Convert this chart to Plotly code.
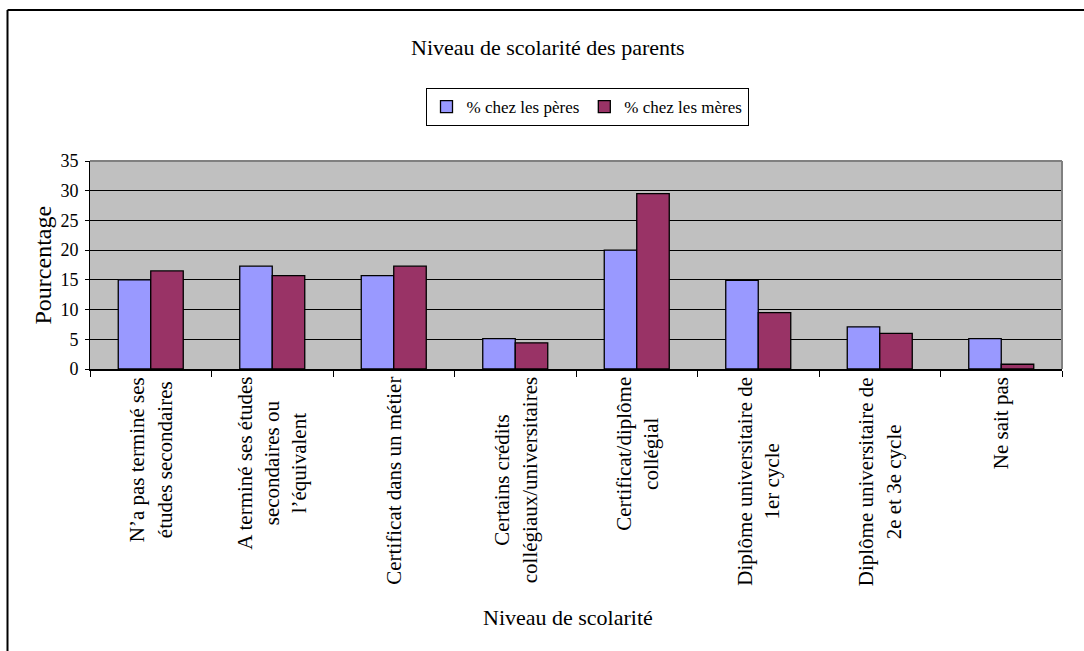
import plotly.graph_objects as go

categories = [
    "N’a pas terminé ses<br>études secondaires",
    "A terminé ses études<br>secondaires ou<br>l’équivalent",
    "Certificat dans un métier",
    "Certains crédits<br>collégiaux/universitaires",
    "Certificat/diplôme<br>collégial",
    "Diplôme universitaire de<br>1er cycle",
    "Diplôme universitaire de<br>2e et 3e cycle",
    "Ne sait pas",
]
peres = [15.0, 17.3, 15.7, 5.1, 20.0, 14.9, 7.1, 5.1]
meres = [16.5, 15.7, 17.3, 4.4, 29.5, 9.5, 6.0, 0.8]
series_names = ["% chez les pères", "% chez les mères"]
y_ticks = [0, 5, 10, 15, 20, 25, 30, 35]

title_text = "Niveau de scolarité des parents"
x_title = "Niveau de scolarité"
y_title = "Pourcentage"

FONT = "Liberation Serif, Times New Roman, serif"
W, H = 1084, 651
L, R, T, B = 90, 22, 161, 282  # plot area: x 90..1062, y 161..369
PW = W - L - R
PH = H - T - B

def px_x(px):
    return (px - L) / PW

def px_y(py):
    return (H - B - py) / PH

fig = go.Figure()
fig.add_trace(go.Bar(
    x=categories, y=peres, name=series_names[0],
    marker=dict(color="#9999FF", line=dict(color="black", width=1.3)),
))
fig.add_trace(go.Bar(
    x=categories, y=meres, name=series_names[1],
    marker=dict(color="#993366", line=dict(color="black", width=1.3)),
))

annotations = []
for c in categories:
    annotations.append(dict(
        x=c, xref="x", y=0, yref="paper", yanchor="top", xanchor="center",
        yshift=-6, text=c, textangle=-90, showarrow=False, align="center",
        font=dict(family=FONT, size=21, color="black"),
    ))
annotations += [
    dict(x=px_x(547.5), y=px_y(48), xref="paper", yref="paper", text=title_text,
         showarrow=False, xanchor="center", yanchor="middle",
         font=dict(family=FONT, size=22, color="black")),
    dict(x=px_x(567.5), y=px_y(617), xref="paper", yref="paper", text=x_title,
         showarrow=False, xanchor="center", yanchor="middle",
         font=dict(family=FONT, size=22, color="black")),
    dict(x=px_x(42.5), y=0.5, xref="paper", yref="paper", text=y_title,
         showarrow=False, xanchor="center", yanchor="middle", textangle=-90,
         font=dict(family=FONT, size=24, color="black")),
]

shapes = [
    # plot border top / right (gray)
    dict(type="line", xref="paper", yref="paper", x0=0, x1=1, y0=1, y1=1,
         line=dict(color="#808080", width=2), layer="above"),
    dict(type="line", xref="paper", yref="paper", x0=1, x1=1, y0=0, y1=1,
         line=dict(color="#808080", width=2), layer="above"),
    # outer chart frame (top and left)
    dict(type="line", xref="paper", yref="paper", x0=px_x(7.5), x1=px_x(1090),
         y0=px_y(10), y1=px_y(10), line=dict(color="black", width=2)),
    dict(type="line", xref="paper", yref="paper", x0=px_x(7.5), x1=px_x(7.5),
         y0=px_y(10), y1=px_y(660), line=dict(color="black", width=2)),
]

fig.update_layout(
    width=W, height=H,
    margin=dict(l=L, r=R, t=T, b=B, autoexpand=False),
    paper_bgcolor="white", plot_bgcolor="#C0C0C0",
    barmode="group", bargap=0.465, bargroupgap=0,
    font=dict(family=FONT, color="black"),
    showlegend=True,
    legend=dict(
        orientation="h", x=px_x(587), xanchor="center", y=px_y(88), yanchor="top",
        bordercolor="black", borderwidth=1, bgcolor="white",
        font=dict(family=FONT, size=17, color="black"),
        traceorder="normal", itemwidth=30,
    ),
    xaxis=dict(
        type="category", showticklabels=False, tickson="boundaries",
        ticks="outside", ticklen=6, tickcolor="black", tickwidth=1,
        showline=True, linecolor="black", linewidth=2, showgrid=False,
        fixedrange=True,
    ),
    yaxis=dict(
        range=[0, 35], tickvals=y_ticks, ticks="outside", ticklen=4,
        tickcolor="black", tickwidth=1, showline=True, linecolor="black",
        linewidth=1, showgrid=True, gridcolor="black", gridwidth=1,
        zeroline=False, tickfont=dict(family=FONT, size=18, color="black"),
        ticklabelstandoff=3, fixedrange=True,
    ),
    annotations=annotations,
    shapes=shapes,
)

fig.write_html("out.html")
